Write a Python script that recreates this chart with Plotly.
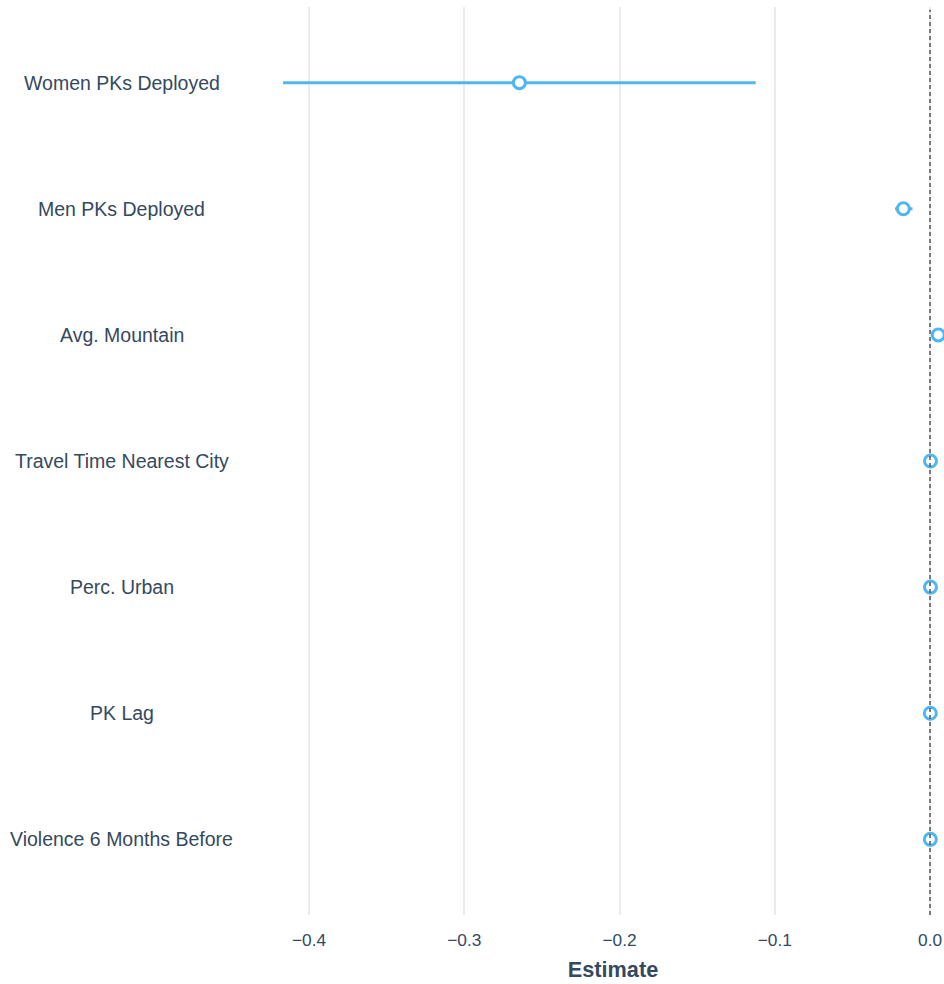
import plotly.graph_objects as go

# Coefficient estimates with 95% confidence intervals
terms = [
    "Women PKs Deployed",
    "Men PKs Deployed",
    "Avg. Mountain",
    "Travel Time Nearest City",
    "Perc. Urban",
    "PK Lag",
    "Violence 6 Months Before",
]
estimate = [-0.2645, -0.0172, 0.0053, 0.0003, 0.0003, 0.0002, 0.0002]
ci_low = [-0.4167, -0.0225, 0.0048, 0.0001, 0.0001, 0.0000, 0.0000]
ci_high = [-0.1123, -0.0113, 0.0058, 0.0005, 0.0005, 0.0004, 0.0004]
x_ticks = [-0.4, -0.3, -0.2, -0.1, 0.0]
x_tick_text = ["\u22120.4", "\u22120.3", "\u22120.2", "\u22120.1", "0.0"]

BLUE = "#4db6f3"
TEXT = "#34495e"
FONT = "Liberation Sans, Arial, sans-serif"

rows = list(range(len(terms)))

fig = go.Figure()
fig.add_trace(
    go.Scatter(
        x=estimate,
        y=rows,
        mode="markers",
        marker=dict(size=12, color="white", line=dict(color=BLUE, width=3)),
        error_x=dict(
            type="data",
            symmetric=False,
            array=[h - e for h, e in zip(ci_high, estimate)],
            arrayminus=[e - l for e, l in zip(estimate, ci_low)],
            color=BLUE,
            thickness=3,
            width=0,
        ),
        showlegend=False,
        hoverinfo="skip",
    )
)

# Reference line at zero
fig.add_shape(
    type="line",
    xref="x", yref="paper",
    x0=0, x1=0, y0=0, y1=0.997,
    line=dict(color="#555555", width=1.5, dash="4px,3px"),
    layer="above",
)

# Term names, centred in the left margin
for r, name in zip(rows, terms):
    fig.add_annotation(
        x=-0.2424, xref="paper",
        y=r, yref="y",
        text=name,
        showarrow=False,
        xanchor="center",
        font=dict(size=19.5, color=TEXT, family=FONT),
    )

fig.update_layout(
    width=944,
    height=984,
    margin=dict(l=282, r=0, t=7, b=69, autoexpand=False),
    paper_bgcolor="white",
    plot_bgcolor="white",
    font=dict(family=FONT, color=TEXT),
    xaxis=dict(
        range=[-0.4174, 0.009],
        tickvals=x_ticks,
        ticktext=x_tick_text,
        tickfont=dict(size=17.3, color=TEXT),
        ticklabelstandoff=13,
        showgrid=True,
        gridcolor="#ebebeb",
        gridwidth=2,
        zeroline=False,
        showline=False,
        ticks="",
        automargin=False,
        title=dict(text="<b>Estimate</b>", font=dict(size=21.7, color=TEXT), standoff=12),
    ),
    yaxis=dict(
        range=[6.6, -0.6],
        showgrid=False,
        zeroline=False,
        showticklabels=False,
        showline=False,
        ticks="",
    ),
)

fig.write_html("out.html")
